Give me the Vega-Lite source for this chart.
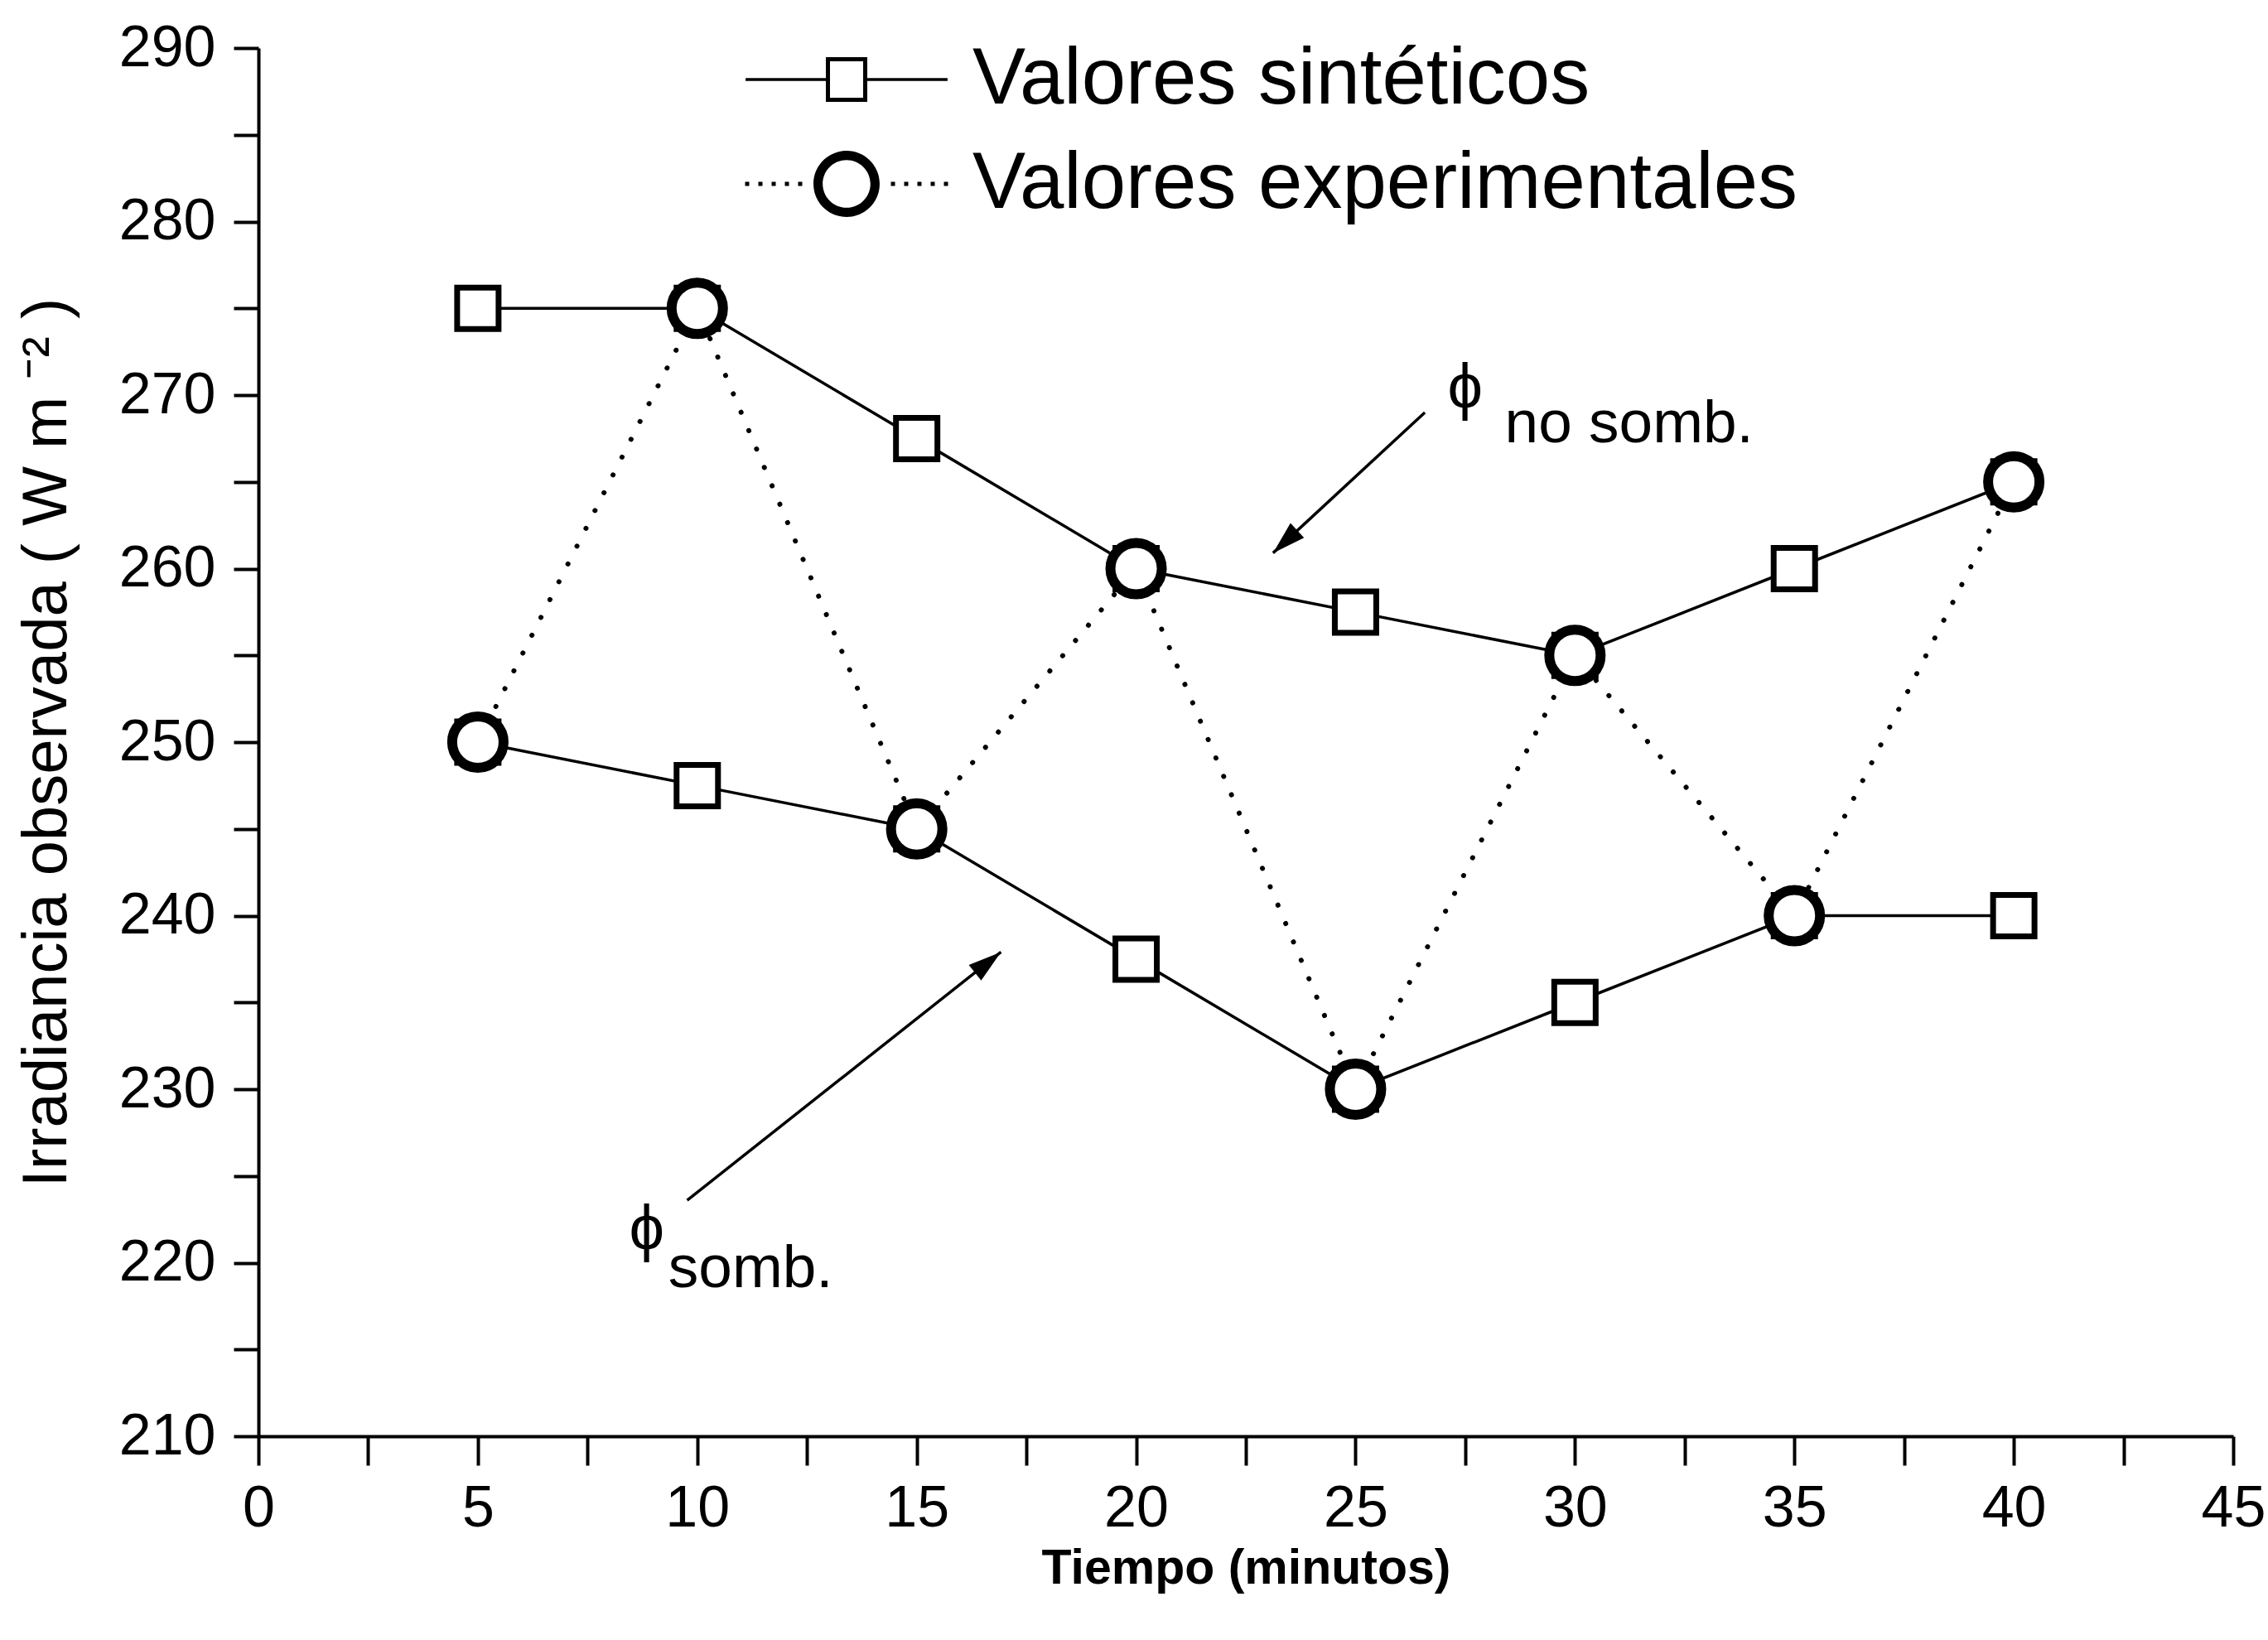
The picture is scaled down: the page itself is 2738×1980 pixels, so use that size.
{
  "$schema": "https://vega.github.io/schema/vega-lite/v6.json",
  "width": 2384,
  "height": 1676,
  "autosize": {"type": "none"},
  "padding": {"left": 312, "top": 58, "right": 42, "bottom": 246},
  "background": "white",
  "config": {"view": {"stroke": null}, "font": "Liberation Sans"},
  "datasets": {
    "puntos": [
      {"t": 5, "irr": 275, "serie": "Valores sintéticos", "curva": "no somb."},
      {"t": 10, "irr": 275, "serie": "Valores sintéticos", "curva": "no somb."},
      {"t": 15, "irr": 267.5, "serie": "Valores sintéticos", "curva": "no somb."},
      {"t": 20, "irr": 260, "serie": "Valores sintéticos", "curva": "no somb."},
      {"t": 25, "irr": 257.5, "serie": "Valores sintéticos", "curva": "no somb."},
      {"t": 30, "irr": 255, "serie": "Valores sintéticos", "curva": "no somb."},
      {"t": 35, "irr": 260, "serie": "Valores sintéticos", "curva": "no somb."},
      {"t": 40, "irr": 265, "serie": "Valores sintéticos", "curva": "no somb."},
      {"t": 5, "irr": 250, "serie": "Valores sintéticos", "curva": "somb."},
      {"t": 10, "irr": 247.5, "serie": "Valores sintéticos", "curva": "somb."},
      {"t": 15, "irr": 245, "serie": "Valores sintéticos", "curva": "somb."},
      {"t": 20, "irr": 237.5, "serie": "Valores sintéticos", "curva": "somb."},
      {"t": 25, "irr": 230, "serie": "Valores sintéticos", "curva": "somb."},
      {"t": 30, "irr": 235, "serie": "Valores sintéticos", "curva": "somb."},
      {"t": 35, "irr": 240, "serie": "Valores sintéticos", "curva": "somb."},
      {"t": 40, "irr": 240, "serie": "Valores sintéticos", "curva": "somb."},
      {"t": 5, "irr": 250, "serie": "Valores experimentales", "curva": "exp"},
      {"t": 10, "irr": 275, "serie": "Valores experimentales", "curva": "exp"},
      {"t": 15, "irr": 245, "serie": "Valores experimentales", "curva": "exp"},
      {"t": 20, "irr": 260, "serie": "Valores experimentales", "curva": "exp"},
      {"t": 25, "irr": 230, "serie": "Valores experimentales", "curva": "exp"},
      {"t": 30, "irr": 255, "serie": "Valores experimentales", "curva": "exp"},
      {"t": 35, "irr": 240, "serie": "Valores experimentales", "curva": "exp"},
      {"t": 40, "irr": 265, "serie": "Valores experimentales", "curva": "exp"}
    ],
    "flechas": [
      {"id": "no somb.", "t": 23.12, "irr": 260.9, "t2": 26.58, "irr2": 269.0},
      {"id": "somb.", "t": 16.92, "irr": 237.9, "t2": 9.77, "irr2": 223.6}
    ],
    "etiquetas": [
      {"tipo": "phi", "t": 27.5, "irr": 270.4, "txt": "ϕ"},
      {"tipo": "phi", "t": 8.85, "irr": 221.9, "txt": "ϕ"},
      {"tipo": "sub", "t": 28.4, "irr": 267.3, "txt": "no somb."},
      {"tipo": "sub", "t": 9.34, "irr": 218.6, "txt": "somb."}
    ]
  },
  "encoding": {
    "x": {
      "field": "t",
      "type": "quantitative",
      "scale": {"domain": [0, 45], "nice": false, "zero": false},
      "axis": {
        "values": [0, 2.5, 5, 7.5, 10, 12.5, 15, 17.5, 20, 22.5, 25, 27.5, 30, 32.5, 35, 37.5, 40, 42.5, 45],
        "title": "Tiempo (minutos)",
        "titleFont": "Liberation Sans",
        "titleFontSize": 59,
        "titleFontWeight": "bold",
        "titleColor": "black",
        "titlePadding": 8,
        "labelExpr": "datum.value % 5 === 0 ? datum.label : ''",
        "labelFont": "Liberation Sans",
        "labelFontSize": 70,
        "labelColor": "black",
        "labelPadding": 18,
        "labelFlush": false,
        "labelOverlap": false,
        "labelBound": false,
        "grid": false,
        "tickSize": 35,
        "tickWidth": 4,
        "tickColor": "black",
        "domainWidth": 4,
        "domainColor": "black",
        "encode": {"ticks": {"update": {"y2": {"signal": "datum.value % 5 === 0 ? 35 : 17"}}}}
      }
    },
    "y": {
      "field": "irr",
      "type": "quantitative",
      "scale": {"domain": [210, 290], "nice": false, "zero": false},
      "axis": {
        "values": [210, 215, 220, 225, 230, 235, 240, 245, 250, 255, 260, 265, 270, 275, 280, 285, 290],
        "title": "Irradiancia observada ( W m ⁻² )",
        "titleFont": "Liberation Sans",
        "titleFontSize": 76,
        "titleFontWeight": "normal",
        "titleColor": "black",
        "titlePadding": 48,
        "labelExpr": "datum.value % 10 === 0 ? datum.label : ''",
        "labelFont": "Liberation Sans",
        "labelFontSize": 70,
        "labelColor": "black",
        "labelPadding": 22,
        "labelFlush": false,
        "labelOverlap": false,
        "labelBound": false,
        "grid": false,
        "tickSize": 30,
        "tickWidth": 4,
        "tickColor": "black",
        "domainWidth": 4,
        "domainColor": "black",
        "encode": {"ticks": {"update": {"x2": {"signal": "datum.value % 10 === 0 ? -30 : -16"}}}}
      }
    }
  },
  "layer": [
    {
      "data": {"name": "puntos"},
      "transform": [{"filter": "datum.serie === 'Valores experimentales'"}],
      "mark": {"type": "line", "color": "black", "strokeWidth": 6, "strokeDash": [0.1, 24], "strokeCap": "round"}
    },
    {
      "data": {"name": "puntos"},
      "transform": [{"filter": "datum.serie === 'Valores sintéticos'"}],
      "mark": {"type": "line", "color": "black", "strokeWidth": 3.5},
      "encoding": {"detail": {"field": "curva"}}
    },
    {
      "data": {"name": "puntos"},
      "transform": [{"filter": "datum.serie === 'Valores sintéticos'"}],
      "mark": {"type": "point", "shape": "square", "filled": true, "fill": "white", "stroke": "black", "strokeWidth": 7, "size": 2500, "opacity": 1}
    },
    {
      "data": {"name": "puntos"},
      "transform": [{"filter": "datum.serie === 'Valores experimentales'"}],
      "mark": {"type": "point", "shape": "circle", "filled": true, "fill": "white", "stroke": "black", "strokeWidth": 12, "size": 3848, "opacity": 1}
    },
    {
      "data": {"name": "puntos"},
      "transform": [{"filter": "false"}],
      "mark": {"type": "point", "filled": true, "color": "black", "strokeWidth": 0, "size": 9216, "opacity": 1},
      "encoding": {
        "shape": {
          "field": "serie",
          "type": "nominal",
          "scale": {
            "domain": ["Valores sintéticos", "Valores experimentales"],
            "range": [
              "M-2.54,-0.036H-0.521V0.036H-2.54ZM0.521,-0.036H2.54V0.036H0.521ZM-0.521,-0.5625H0.521V0.5625H-0.521ZM-0.417,-0.458V0.458H0.417V-0.458Z",
              "M0,-0.833A0.833,0.833,0,1,1,0,0.833A0.833,0.833,0,1,1,0,-0.833ZM0,-0.6A0.6,0.6,0,1,0,0,0.6A0.6,0.6,0,1,0,0,-0.6ZM-2.552,-0.052h0.104v0.104h-0.104ZM-2.219,-0.052h0.104v0.104h-0.104ZM-1.885,-0.052h0.104v0.104h-0.104ZM-1.552,-0.052h0.104v0.104h-0.104ZM-1.219,-0.052h0.104v0.104h-0.104ZM1.115,-0.052h0.104v0.104h-0.104ZM1.448,-0.052h0.104v0.104h-0.104ZM1.781,-0.052h0.104v0.104h-0.104ZM2.115,-0.052h0.104v0.104h-0.104ZM2.448,-0.052h0.104v0.104h-0.104Z"
            ]
          },
          "legend": {
            "title": null,
            "orient": "none",
            "legendX": 662,
            "legendY": -10,
            "direction": "vertical",
            "padding": 0,
            "symbolSize": 9216,
            "symbolStrokeWidth": 0,
            "symbolFillColor": "black",
            "symbolOpacity": 1,
            "labelFont": "Liberation Sans",
            "labelFontSize": 96,
            "labelColor": "black",
            "labelOffset": 104,
            "labelLimit": 3000,
            "rowPadding": 30
          }
        }
      }
    },
    {
      "data": {"name": "flechas"},
      "mark": {"type": "rule", "color": "black", "strokeWidth": 3.5},
      "encoding": {"x2": {"field": "t2"}, "y2": {"field": "irr2"}}
    },
    {
      "data": {"name": "flechas"},
      "transform": [{"filter": "datum.id === 'no somb.'"}],
      "mark": {"type": "point", "shape": "M0,0L0.3,1L-0.3,1Z", "size": 6400, "angle": 227, "filled": true, "color": "black", "strokeWidth": 0, "opacity": 1}
    },
    {
      "data": {"name": "flechas"},
      "transform": [{"filter": "datum.id === 'somb.'"}],
      "mark": {"type": "point", "shape": "M0,0L0.3,1L-0.3,1Z", "size": 6400, "angle": 51.6, "filled": true, "color": "black", "strokeWidth": 0, "opacity": 1}
    },
    {
      "data": {"name": "etiquetas"},
      "transform": [{"filter": "datum.tipo === 'phi'"}],
      "mark": {"type": "text", "font": "Liberation Sans", "fontSize": 76, "align": "center", "baseline": "middle", "color": "black"},
      "encoding": {"text": {"field": "txt"}}
    },
    {
      "data": {"name": "etiquetas"},
      "transform": [{"filter": "datum.tipo === 'sub'"}],
      "mark": {"type": "text", "font": "Liberation Sans", "fontSize": 73, "align": "left", "baseline": "alphabetic", "color": "black"},
      "encoding": {"text": {"field": "txt"}}
    }
  ]
}
